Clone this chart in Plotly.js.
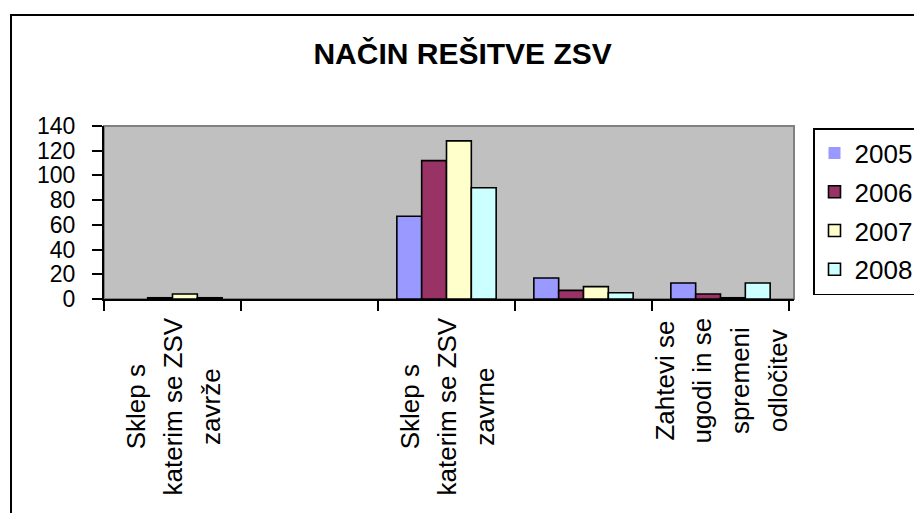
<!DOCTYPE html>
<html>
<head>
<meta charset="utf-8">
<script src="https://cdn.plot.ly/plotly-3.0.1.min.js"></script>
<style>
  html, body { margin: 0; padding: 0; background: #fff; overflow: hidden; }
  #chart { position: absolute; left: 0; top: 0; width: 914px; height: 513px; }
  #frame { position: absolute; left: 10px; top: 14px; width: 1200px; height: 1200px;
           border: 2px solid #000; pointer-events: none; }
</style>
</head>
<body>
<div id="chart"></div>
<div id="frame"></div>
<script>
// ---- data ----
const categories = [
  "Sklep s katerim se ZSV zavrže",
  "kategorija 2",
  "Sklep s katerim se ZSV zavrne",
  "kategorija 4",
  "Zahtevi se ugodi in se spremeni odločitev"
];
// visible (wrapped) axis labels; empty = label hidden in the original
const labelLines = [
  ["Sklep s", "katerim se ZSV", "zavrže"],
  [],
  ["Sklep s", "katerim se ZSV", "zavrne"],
  [],
  ["Zahtevi se", "ugodi in se", "spremeni", "odločitev"]
];
const seriesNames = ["2005", "2006", "2007", "2008"];
const v2005 = [0, 0, 67, 17, 13];
const v2006 = [1, 0, 112, 7, 4];
const v2007 = [4, 0, 128, 10, 1];
const v2008 = [1, 0, 90, 5, 13];
const seriesValues = [v2005, v2006, v2007, v2008];
const seriesColors = ["#9999FF", "#993366", "#FFFFCC", "#CCFFFF"];
const yTicks = [0, 20, 40, 60, 80, 100, 120, 140];

const FONT = "Arial, 'Liberation Sans', sans-serif";

const traces = seriesNames.map((name, i) => ({
  type: "bar",
  name: name,
  x: categories,
  y: seriesValues[i],
  legendgroup: "g" + i,
  marker: {
    color: seriesColors[i],
    // no outline on empty (zero) bars
    line: { color: "#000", width: seriesValues[i].map(v => (v === 0 ? 0 : 1.6)) }
  },
  hoverinfo: "x+y+name"
}));

const annotations = [];
labelLines.forEach((lines, i) => {
  if (!lines.length) return;
  annotations.push({
    xref: "x", yref: "paper",
    x: categories[i], y: 0,
    yanchor: "top", xanchor: "center",
    yshift: -17,
    textangle: -90,
    align: "center",
    showarrow: false,
    font: { family: FONT, size: 29, color: "#000" },
    text: lines.map(l => '<span style="font-size:26px">' + l + '</span>').join("<br>")
  });
});

const layout = {
  width: 914, height: 513,
  margin: { l: 104, r: 120, t: 126, b: 214, autoexpand: false },
  paper_bgcolor: "#fff",
  plot_bgcolor: "#C0C0C0",
  font: { family: FONT, color: "#000" },
  title: {
    text: "NAČIN REŠITVE ZSV",
    font: { family: FONT, size: 30, weight: "bold", color: "#000" },
    x: 475 / 914, xanchor: "center", xref: "paper",
    y: 1 - 53 / 513, yanchor: "middle", yref: "container"
  },
  bargap: 0.275,
  bargroupgap: 0,
  barmode: "group",
  xaxis: {
    type: "category",
    categoryorder: "array", categoryarray: categories,
    tickson: "boundaries",
    ticks: "outside", ticklen: 10, tickwidth: 2, tickcolor: "#000",
    showticklabels: false,
    showline: true, linecolor: "#000", linewidth: 2,
    showgrid: false, zeroline: false
  },
  yaxis: {
    range: [0, 140],
    tickvals: yTicks,
    ticktext: yTicks.map(String),
    ticks: "outside", ticklen: 10, tickwidth: 2, tickcolor: "#000",
    ticklabelstandoff: 12,
    tickfont: { family: FONT, size: 23, color: "#000" },
    showline: true, linecolor: "#000", linewidth: 2,
    showgrid: false, zeroline: false
  },
  shapes: [{
    type: "rect", xref: "paper", yref: "paper",
    x0: 0, x1: 1, y0: 0, y1: 1,
    line: { color: "#808080", width: 2 },
    fillcolor: "rgba(0,0,0,0)", layer: "below"
  }],
  legend: {
    x: (813 - 104) / 690, xanchor: "left",
    y: (299 - 128) / 173, yanchor: "top",
    bgcolor: "#fff", bordercolor: "#000", borderwidth: 1.5,
    font: { family: FONT, size: 26, color: "#000" },
    traceorder: "grouped", tracegroupgap: 2,
    itemwidth: 30
  },
  annotations: annotations
};

Plotly.newPlot("chart", traces, layout, { displayModeBar: false, staticPlot: true });
</script>
</body>
</html>
